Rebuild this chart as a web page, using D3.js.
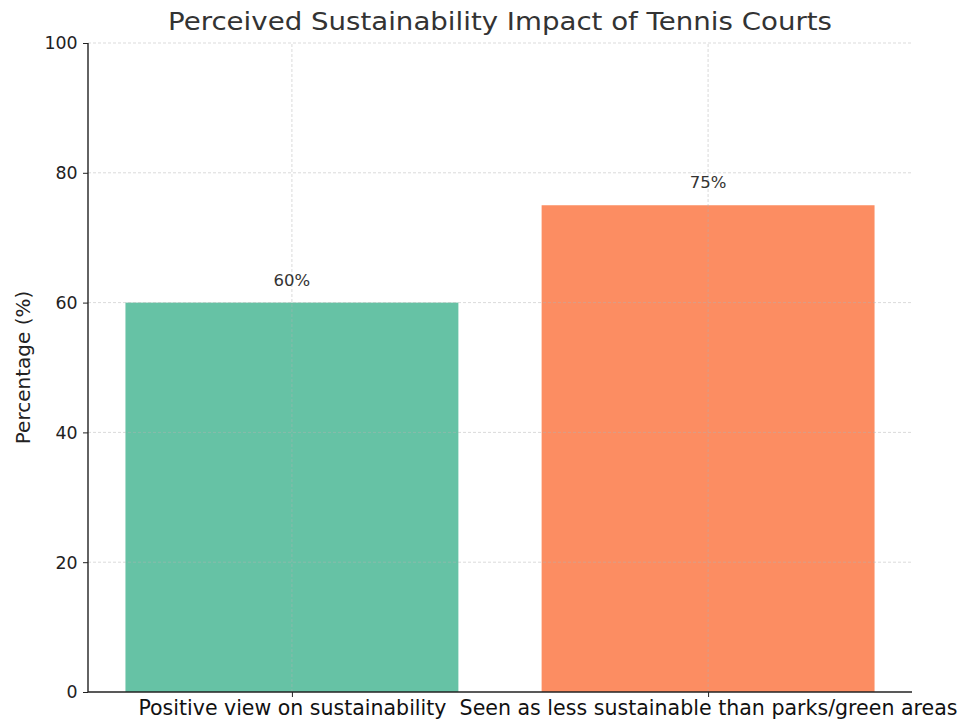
<!DOCTYPE html>
<html>
<head>
<meta charset="utf-8">
<script src="https://cdn.jsdelivr.net/npm/d3@7"></script>
<style>
  html, body { margin: 0; padding: 0; background: #fff; }
  svg { display: block; font-family: "DejaVu Sans", sans-serif; }
</style>
</head>
<body>
<svg id="chart" width="963" height="722"></svg>
<script>
// Survey results on how tennis courts are perceived in terms of sustainability
const categories = ["Positive view on sustainability", "Seen as less sustainable than parks/green areas"];
const values = [60, 75];
const barColors = ["#66c2a5", "#fc8d62"];
const yTicks = [0, 20, 40, 60, 80, 100];

const svg = d3.select("#chart");
const margin = { left: 88, right: 51, top: 43, bottom: 30 };
const W = 963, H = 722;

const x = d3.scaleLinear().domain([-0.49, 1.49]).range([margin.left, W - margin.right]);
const y = d3.scaleLinear().domain([0, 100]).range([H - margin.bottom, margin.top]);
const barW = 0.8;

// bars
svg.append("g").selectAll("rect").data(values).join("rect")
  .attr("x", (d, i) => x(i - barW / 2))
  .attr("width", (d, i) => x(i + barW / 2) - x(i - barW / 2))
  .attr("y", d => y(d))
  .attr("height", d => y(0) - y(d))
  .attr("fill", (d, i) => barColors[i]);

// dashed grid on top of the bars
const grid = svg.append("g").attr("stroke", "#b0b0b0").attr("stroke-opacity", 0.6)
  .attr("stroke-dasharray", "3,2").attr("stroke-width", 0.8);
grid.selectAll("line.h").data(yTicks.slice(1)).join("line").attr("class", "h")
  .attr("x1", margin.left).attr("x2", W - margin.right)
  .attr("y1", d => y(d)).attr("y2", d => y(d));
grid.selectAll("line.v").data(categories).join("line").attr("class", "v")
  .attr("x1", (d, i) => x(i)).attr("x2", (d, i) => x(i))
  .attr("y1", y(0)).attr("y2", y(100));

// value labels
svg.append("g").selectAll("text").data(values).join("text")
  .attr("x", (d, i) => x(i))
  .attr("y", d => y(d) - 17)
  .attr("text-anchor", "middle")
  .attr("font-size", 16.5)
  .attr("fill", "#333")
  .text(d => d + "%");

// y axis
const yAxis = svg.append("g").attr("transform", `translate(${margin.left},0)`)
  .call(d3.axisLeft(y).tickValues(yTicks).tickSize(5).tickPadding(6));
yAxis.select(".domain").attr("stroke", "#222").attr("stroke-width", 1.4).attr("d", `M0,${y(100)}V${y(0)}`);
yAxis.selectAll(".tick line").attr("stroke", "#222");
yAxis.selectAll(".tick text").attr("font-size", 18.5).attr("fill", "#222")
  .attr("font-family", "DejaVu Sans").attr("transform", "scale(0.94,1)");

// x axis
const xLabelWidths = [308, 498];
const xAxis = svg.append("g").attr("transform", `translate(0,${y(0)})`)
  .call(d3.axisBottom(x).tickValues([0, 1]).tickFormat((d, i) => categories[i]).tickSize(5).tickPadding(4));
xAxis.select(".domain").attr("stroke", "#222").attr("stroke-width", 1.4).attr("d", `M${margin.left},0H${W - margin.right}`);
xAxis.selectAll(".tick line").attr("stroke", "#222");
xAxis.selectAll(".tick text").attr("font-size", 21.5).attr("fill", "#111")
  .attr("font-family", "DejaVu Sans").attr("dy", null).attr("y", 23)
  .attr("textLength", (d, i) => xLabelWidths[i]).attr("lengthAdjust", "spacingAndGlyphs");

// y label
svg.append("text")
  .attr("transform", `translate(30,${(y(0) + y(100)) / 2}) rotate(-90)`)
  .attr("text-anchor", "middle")
  .attr("font-size", 20)
  .attr("fill", "#222")
  .text("Percentage (%)");

// title
svg.append("text")
  .attr("x", 500)
  .attr("y", 30)
  .attr("text-anchor", "middle")
  .attr("font-size", 25)
  .attr("fill", "#333")
  .attr("textLength", 664).attr("lengthAdjust", "spacingAndGlyphs")
  .text("Perceived Sustainability Impact of Tennis Courts");
</script>
</body>
</html>
